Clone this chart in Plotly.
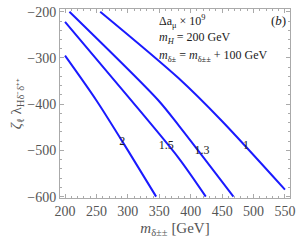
import plotly.graph_objects as go

# contour curves of Delta a_mu x 1e9
c2_x = [200, 250, 300, 345]
c2_y = [-295, -392, -500, -600]
c15_x = [200, 300, 380, 424]
c15_y = [-222, -383, -515, -600]
c13_x = [207, 348, 382, 468]
c13_y = [-200, -391, -448, -600]
c1_x = [256, 380, 450, 550]
c1_y = [-200, -343, -437, -585]

curves = [(c2_x, c2_y), (c15_x, c15_y), (c13_x, c13_y), (c1_x, c1_y)]

label_text = ["2", "1.5", "1.3", "1"]
label_x = [291, 361, 418, 488]
label_y = [-482, -490, -502, -490]

x_ticks = [200, 250, 300, 350, 400, 450, 500, 550]
y_ticks = [-600, -500, -400, -300, -200]

SERIF = "Liberation Serif, Times New Roman, serif"
fig = go.Figure()
for xs, ys in curves:
    fig.add_trace(go.Scatter(x=xs, y=ys, mode="lines",
                             line=dict(color="#1a1aff", width=2, shape="spline", smoothing=0.8),
                             showlegend=False, hoverinfo="skip"))

fig.add_trace(go.Scatter(x=label_x, y=label_y, mode="text", text=label_text,
                         textfont=dict(family=SERIF, size=12, color="#222"),
                         showlegend=False, hoverinfo="skip"))

axis_common = dict(showline=True, mirror="ticks", linecolor="#aaaaaa", linewidth=1,
                   ticks="inside", ticklen=4, tickcolor="#aaaaaa",
                   showgrid=False, zeroline=False,
                   tickfont=dict(family=SERIF, size=14, color="#555555"))

fig.update_xaxes(range=[192, 558], tickvals=x_ticks, ticklabeloverflow="allow",
                 minor=dict(dtick=10, ticklen=2, tickcolor="#aaaaaa", ticks="inside"),
                 title=dict(text="<i>m</i><sub>δ±±</sub> [GeV]", font=dict(family=SERIF, size=15, color="#555555"),
                            standoff=4),
                 **axis_common)
fig.update_yaxes(range=[-603, -194], tickvals=y_ticks,
                 minor=dict(dtick=20, ticklen=2, tickcolor="#aaaaaa", ticks="inside"),
                 title=dict(text="<i>ζ</i><sub>ℓ</sub> λ<sub>Hδ⁻δ⁺⁺</sub>", font=dict(family=SERIF, size=15, color="#555555"),
                            standoff=2),
                 **axis_common)

ann_font = dict(family=SERIF, size=12, color="#222")
fig.add_annotation(x=0.42, y=0.99, xref="paper", yref="paper", xanchor="left", yanchor="top",
                   text="Δa<sub>μ</sub> × 10<sup>9</sup>", showarrow=False, font=ann_font)
fig.add_annotation(x=0.99, y=0.99, xref="paper", yref="paper", xanchor="right", yanchor="top",
                   text="(<i>b</i>)", showarrow=False, font=dict(family=SERIF, size=13, color="#222"))
fig.add_annotation(x=0.42, y=0.9, xref="paper", yref="paper", xanchor="left", yanchor="top",
                   text="<i>m</i><sub><i>H</i></sub> = 200 GeV", showarrow=False, font=ann_font)
fig.add_annotation(x=0.42, y=0.805, xref="paper", yref="paper", xanchor="left", yanchor="top",
                   text="<i>m</i><sub>δ±</sub> = <i>m</i><sub>δ±±</sub> + 100 GeV", showarrow=False, font=ann_font)

fig.update_layout(width=300, height=243, margin=dict(l=60, r=8, t=5, b=45),
                  paper_bgcolor="white", plot_bgcolor="white")
fig.write_html("out.html", config={"displayModeBar": False},
               post_script="document.body.style.margin='0';document.body.style.overflow='hidden';")
